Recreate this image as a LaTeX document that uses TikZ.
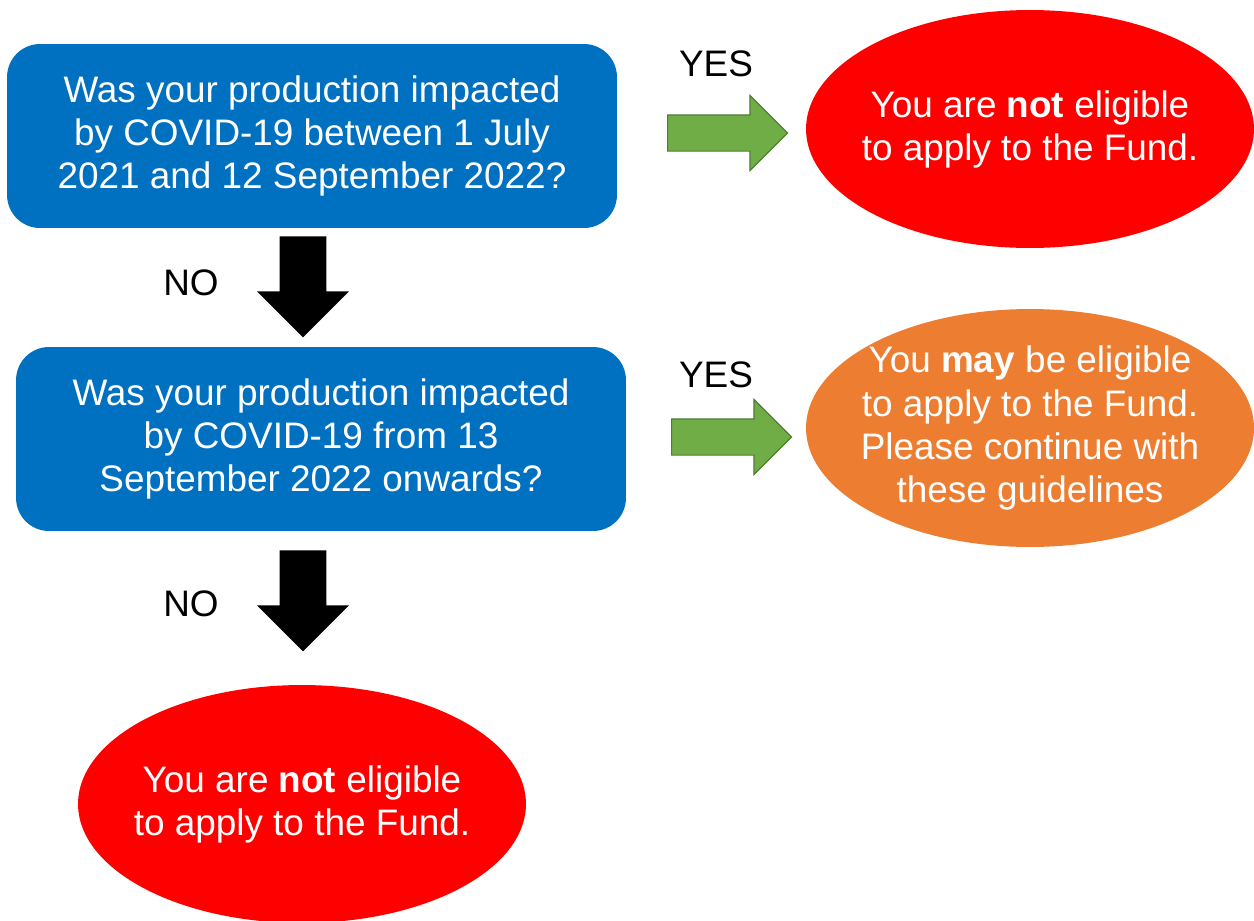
\documentclass[tikz,border=0pt]{standalone}
\usepackage{fontspec}
\setmainfont{Liberation Sans}
\usetikzlibrary{shapes.geometric}
\usetikzlibrary{shapes.arrows}

\definecolor{boxblue}{RGB}{0,112,192}
\definecolor{notred}{RGB}{255,0,0}
\definecolor{mayorange}{RGB}{237,125,49}
\definecolor{yesgreen}{RGB}{112,173,71}
\definecolor{yesedge}{RGB}{80,126,50}

\tikzset{
  question/.style={rectangle, rounded corners=0.66cm, fill=boxblue, text=white,
    align=center, minimum width=12.2cm, minimum height=3.68cm,
    font=\fontsize{21}{24.5}\selectfont},
  answer/.style={ellipse, text=white, align=center, inner sep=-1cm,
    minimum width=8.96cm, minimum height=4.76cm,
    font=\fontsize{21}{24.5}\selectfont},
  yesarrow/.style={single arrow, fill=yesgreen, draw=yesedge, line width=0.7pt,
    single arrow tip angle=90, single arrow head extend=0.39cm,
    inner xsep=0pt, inner ysep=0.35cm, minimum height=2.4cm, anchor=tail},
  noarrow/.style={single arrow, fill=black, rotate=-90,
    single arrow tip angle=90, single arrow head extend=0.45cm,
    inner xsep=0pt, inner ysep=0.46cm, minimum height=2.02cm, anchor=tail},
  choice/.style={font=\fontsize{21}{24}\selectfont}
}

\begin{document}
\begin{tikzpicture}[x=0.02cm, y=-0.02cm]
    \useasboundingbox (0, 0) rectangle (1254, 920);

    % First question
    \node[question] (q1) at (312, 136) {Was your production impacted\\by COVID-19 between 1 July\\2021 and 12 September 2022?};
    \node[yesarrow] (yes1) at (667, 133) {};
    \node[choice] (yes1lab) at (716, 64) {YES};
    \node[answer, fill=notred] (notA) at (1030, 129) {You are \textbf{not} eligible\\to apply to the Fund.};

    \node[noarrow] (no1) at (303, 236) {};
    \node[choice] (no1lab) at (191, 283) {NO};

    % Second question
    \node[question] (q2) at (321, 439) {Was your production impacted\\by COVID-19 from 13\\September 2022 onwards?};
    \node[yesarrow] (yes2) at (671, 437) {};
    \node[choice] (yes2lab) at (716, 375) {YES};
    \node[answer, fill=mayorange] (may) at (1030, 428) {You \textbf{may} be eligible\\to apply to the Fund.\\Please continue with\\these guidelines};

    \node[noarrow] (no2) at (303, 550) {};
    \node[choice] (no2lab) at (191, 604) {NO};

    % Final answer
    \node[answer, fill=notred] (notB) at (302, 804) {You are \textbf{not} eligible\\to apply to the Fund.};
\end{tikzpicture}
\end{document}
